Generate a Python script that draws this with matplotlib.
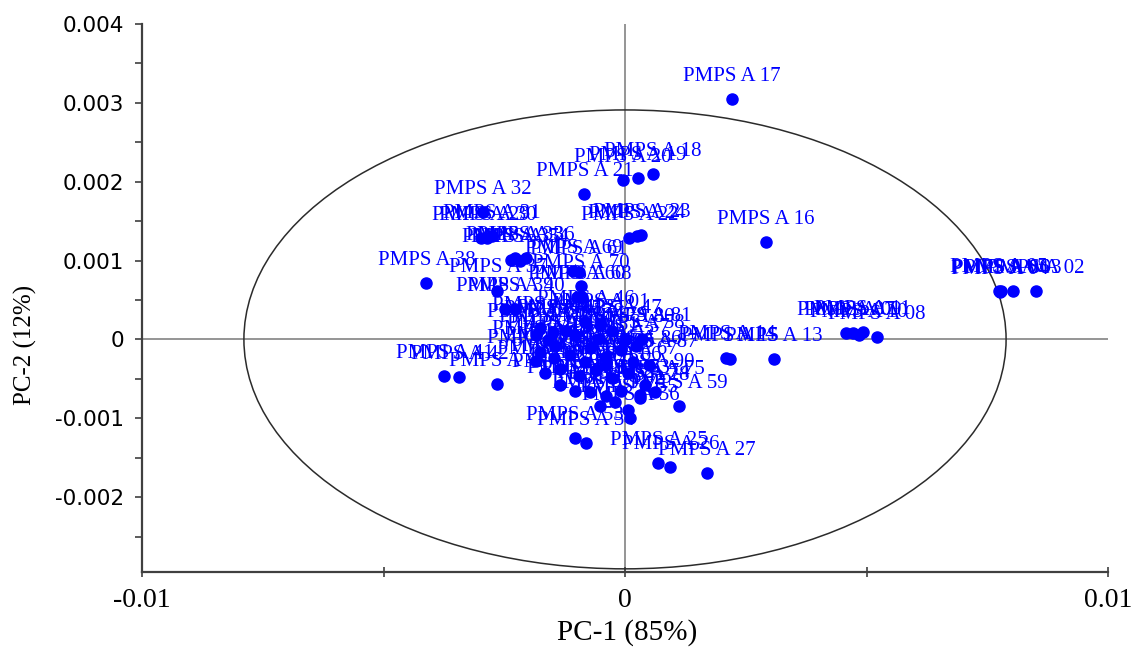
import matplotlib
matplotlib.use("Agg")
import matplotlib.pyplot as plt
from matplotlib.patches import Ellipse
from matplotlib.ticker import MultipleLocator

plt.rcParams["font.family"] = ["Liberation Serif", "DejaVu Serif"]

# sample scores (PC-1, PC-2)
samples = ["01", "02", "03", "04", "05", "06", "07", "08", "09", "10",
           "11", "12", "13", "14", "15", "16", "17", "18", "19", "20",
           "21", "22", "23", "24", "25", "26", "27", "28", "29", "30",
           "31", "32", "33", "34", "35", "36", "37", "38", "39", "40",
           "41", "42", "43", "44", "45", "46", "47", "48", "49", "50",
           "51", "52", "53", "54", "55", "56", "57", "58", "59", "60",
           "61", "62", "63", "64", "65", "66", "67", "68", "69", "70",
           "71", "72", "73", "74", "75", "76", "77", "78", "79", "80",
           "81", "82", "83", "84", "85", "86", "87", "88", "89", "90",
           "91", "92"]
pc1 = [-0.00051, 0.00851, 0.00803, 0.00776, 0.00774, 0.00778, 0.00457, 0.00521, 0.00472, 0.00484,
       0.00492, -0.00123, 0.00308, 0.00210, 0.00217, 0.00291, 0.00221, 0.00057, 0.00026, -0.00005,
       -0.00084, 0.00009, 0.00034, 0.00024, 0.00069, 0.00094, 0.00169, 0.00032, -0.00299, -0.00285,
       -0.00275, -0.00295, -0.00227, -0.00217, -0.00237, -0.00206, -0.00264, -0.00411, -0.00248, -0.00227,
       -0.00374, -0.00343, -0.00264, -0.00175, -0.00150, -0.00082, -0.00026, -0.00175, -0.00144, -0.00113,
       -0.00072, -0.00040, -0.00103, -0.00080, 0.00007, 0.00011, -0.00009, 0.00022, 0.00111, -0.00099,
       -0.00096, -0.00165, -0.00134, -0.00096, -0.00061, -0.00026, 0.00007, -0.00088, -0.00107, -0.00092,
       -0.00072, -0.00040, -0.00009, 0.00032, 0.00063, -0.00185, -0.00159, -0.00103, -0.00055, 0.00001,
       0.00036, -0.00185, -0.00148, -0.00082, -0.00040, 0.00016, 0.00049, -0.00134, -0.00103, 0.00042,
       -0.00051, -0.00020]
pc2 = [0.00018, 0.00061, 0.00061, 0.00060, 0.00062, 0.00061, 0.00008, 0.00003, 0.00008, 0.00006,
       0.00009, 0.00011, -0.00025, -0.00023, -0.00025, 0.00123, 0.00305, 0.00210, 0.00205, 0.00202,
       0.00184, 0.00129, 0.00132, 0.00131, -0.00157, -0.00162, -0.00169, -0.00074, 0.00129, 0.00128,
       0.00131, 0.00161, 0.00103, 0.00100, 0.00101, 0.00103, 0.00062, 0.00072, 0.00039, 0.00039,
       -0.00047, -0.00048, -0.00057, 0.00014, 0.00009, 0.00022, 0.00011, -0.00016, -0.00008, -0.00020,
       -0.00011, -0.00022, -0.00125, -0.00132, -0.00090, -0.00100, -0.00014, -0.00008, -0.00084, 0.00054,
       0.00085, -0.00042, -0.00037, -0.00047, -0.00039, -0.00049, -0.00042, 0.00054, 0.00087, 0.00068,
       -0.00067, -0.00072, -0.00065, -0.00071, -0.00067, 0.00005, -0.00001, 0.00005, 0.00001, -0.00001,
       0.00001, -0.00027, -0.00024, -0.00029, -0.00033, -0.00029, -0.00033, -0.00058, -0.00065, -0.00058,
       -0.00084, -0.00080]

# Hotelling T2 ellipse half-axes
ell_a = 0.00789
ell_b = 0.00291

yticks = [-0.002, -0.001, 0, 0.001, 0.002, 0.003, 0.004]
ytick_labels = ["-0.002", "-0.001", "0", "0.001", "0.002", "0.003", "0.004"]
xticks = [-0.01, 0, 0.01]
xtick_labels = ["-0.01", "0", "0.01"]

blue = "#0000FF"

fig = plt.figure(figsize=(11.34, 6.5), dpi=100)
ax = fig.add_axes([142 / 1134, 78 / 650, 966 / 1134, 548 / 650])

ax.axhline(0, color="#8c8c8c", lw=1.3, zorder=1)
ax.axvline(0, color="#8c8c8c", lw=1.3, zorder=1)
ax.add_patch(Ellipse((0, 0), 2 * ell_a, 2 * ell_b, fill=False,
                     edgecolor="#2b2b2b", lw=1.1, zorder=2))

ax.plot(pc1, pc2, "o", color=blue, markersize=8, zorder=3)
for s, x, y in zip(samples, pc1, pc2):
    ax.annotate("PMPS A " + s, (x, y), xytext=(0, 13), textcoords="offset points",
                ha="center", va="baseline", fontsize=15, color=blue, zorder=4)

ax.set_xlim(-0.01, 0.01)
ax.set_ylim(-0.00295, 0.004)
ax.spines["top"].set_visible(False)
ax.spines["right"].set_visible(False)
for sp in ("left", "bottom"):
    ax.spines[sp].set_linewidth(1.6)
    ax.spines[sp].set_color("#404040")

ax.set_yticks(yticks)
ax.set_yticklabels(ytick_labels, fontfamily="DejaVu Sans", fontsize=15.5)
ax.yaxis.set_minor_locator(MultipleLocator(0.0005))
ax.set_xticks(xticks)
ax.set_xticklabels(xtick_labels, fontsize=20)
ax.xaxis.set_minor_locator(MultipleLocator(0.005))
ax.tick_params(axis="y", which="both", direction="out", length=5, width=1.2,
               color="#404040", pad=8)
ax.tick_params(axis="x", which="both", direction="inout", length=7, width=1.2,
               color="#404040", pad=8)

ax.set_xlabel("PC-1 (85%)", fontsize=21, va="center")
ax.xaxis.set_label_coords(0.502, -0.111)
ax.set_ylabel("PC-2 (12%)", fontsize=18, va="center")
ax.yaxis.set_label_coords(-0.121, 0.414)

fig.savefig("out.png", dpi=100)
